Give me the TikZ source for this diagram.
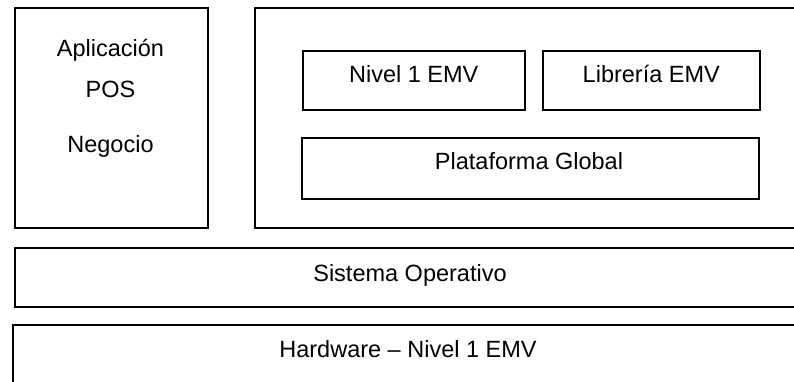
\documentclass[tikz,border=0pt]{standalone}
\usepackage{fontspec}
\setmainfont{Liberation Sans}
\begin{document}
\begin{tikzpicture}[x=1pt,y=-1pt,
  layer/.style={draw=black,line width=1.6pt,rectangle,inner sep=0pt,anchor=north west},
  lbl/.style={font=\fontsize{23.5}{28}\selectfont,inner sep=0pt,anchor=base}]
  \useasboundingbox (0,0) rectangle (794,382);
  \clip (0,0) rectangle (794,382);
  % application column
  \node[layer,minimum width=193pt,minimum height=220pt] (app) at (14,7) {};
  \node[lbl] (apl) at (110.5,57) {Aplicación};
  \node[lbl] (pos) at (110.5,98) {POS};
  \node[lbl] (neg) at (110.5,153) {Negocio};
  % EMV stack container
  \node[layer,minimum width=560pt,minimum height=220pt] (emv) at (254,7) {};
  \node[layer,minimum width=222pt,minimum height=59pt] (n1) at (302,50) {};
  \node[lbl] at (n1.center |- 0,83) {Nivel 1 EMV};
  \node[layer,minimum width=217pt,minimum height=59pt] (lib) at (542,50) {};
  \node[lbl] at (lib.center |- 0,83) {Librería EMV};
  \node[layer,minimum width=457pt,minimum height=61pt] (plat) at (301,137) {};
  \node[lbl] at (529,170) {Plataforma Global};
  % operating system and hardware
  \node[layer,minimum width=800pt,minimum height=59pt] (so) at (14,247) {};
  \node[lbl] at (410,281) {Sistema Operativo};
  \node[layer,minimum width=800pt,minimum height=80pt] (hw) at (12,324) {};
  \node[lbl] at (408,357) {Hardware – Nivel 1 EMV};
\end{tikzpicture}
\end{document}
